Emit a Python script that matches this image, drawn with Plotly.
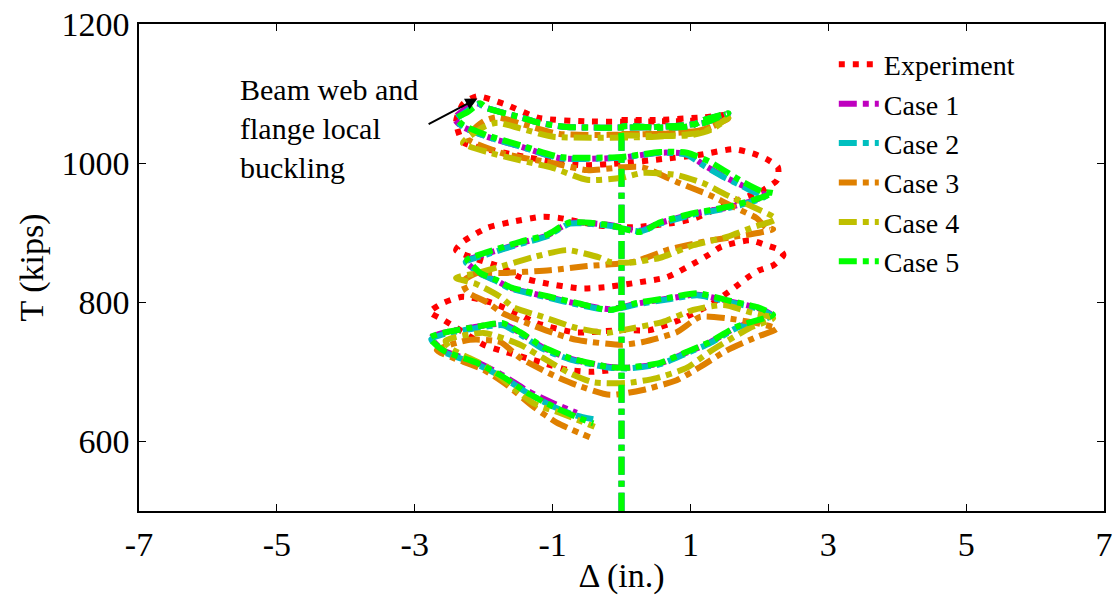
import plotly.graph_objects as go

# ---------------- data ----------------
exp_x = [0.0, 0.5, 1.2, 1.55, 1.2, 0.5, -0.5, -1.2, -1.7, -2.1, -2.3, -2.4, -2.3, -1.95, -1.0, -0.56, 0.0, 0.6,
         1.14, 1.62, 1.9, 2.1, 2.27, 2.26, 2.05, 1.5, 1.07, 0.75, 0.17, -0.3, -0.89, -1.14, -1.62, -1.95, -2.3,
         -2.4, -2.1, -1.76, -1.47, -1.14, -0.6, -0.21, 0.27, 0.66, 1.07, 1.26, 1.45, 1.86, 2.1, 2.3, 2.35, 2.2,
         2.0, 1.82, 1.65, 1.28, 0.85, 0.41, 0.0, -0.46, -0.7, -1.23, -1.47, -1.9, -2.3, -2.59, -2.78, -2.59,
         -2.39, -2.0, -1.76, -1.14, -0.79, -0.46, -0.1]
exp_T = [1062, 1062, 1066, 1070, 1062, 1060, 1060, 1065, 1085, 1096, 1085, 1060, 1030, 1020, 1002, 997, 1000, 1006,
         1012, 1020, 1014, 1006, 994, 976, 961, 940, 921, 914, 908, 910, 921, 923, 915, 907, 887,
         875, 862, 851, 836, 828, 820, 822, 829, 836, 857, 868, 880, 889, 882, 875, 868, 853,
         846, 835, 822, 796, 775, 760, 760, 757, 757, 770, 782, 800, 808, 799, 786, 775,
         763, 739, 731, 713, 703, 700, 703]

c5_x = [0.0, 0.0, 0.0, 0.5, 1.0, 1.19, 1.55, 1.2, 0.5, -0.3, -0.8, -1.2, -1.47, -1.95, -2.05, -2.24, -2.39, -2.3,
        -1.95, -1.47, -0.89, 0.0, 0.56, 0.95, 1.28, 1.76, 2.05, 2.2, 1.91, 1.53, 1.04, 0.56, 0.27, -0.17,
        -0.75, -1.08, -1.47, -1.95, -2.24, -2.15, -2.05, -1.81, -1.62, -1.04, -0.65, -0.17, 0.22, 0.66, 1.1,
        1.53, 1.97, 2.2, 2.0, 1.67, 1.28, 0.95, 0.56, 0.08, -0.17, -0.75, -1.14, -1.47, -1.72, -2.1, -2.59,
        -2.78, -2.59, -2.1, -1.72, -1.37, -0.99, -0.65, -0.41]
c5_T = [500, 1035, 1052, 1051, 1053, 1062, 1072, 1058, 1052, 1051, 1052, 1058, 1066, 1079, 1086, 1073, 1065, 1055,
        1040, 1026, 1009, 1009, 1016, 1015, 1002, 973, 959, 957, 947, 937, 928, 915, 901, 911,
        915, 897, 887, 872, 861, 852, 842, 832, 822, 808, 799, 789, 799, 806, 813,
        803, 793, 782, 775, 765, 743, 729, 713, 706, 707, 720, 736, 757, 770, 765, 756,
        749, 731, 713, 693, 670, 650, 635, 626]

c2_x = [0.0, 0.0, 0.0, 0.5, 1.0, 1.19, 1.55, 1.2, 0.5, -0.3, -0.8, -1.2, -1.47, -1.95, -2.08, -2.28, -2.4, -2.3,
        -1.95, -1.47, -0.89, 0.0, 0.56, 0.95, 1.2, 1.48, 1.77, 1.96, 2.1, 1.91, 1.53, 1.04, 0.56, 0.27, -0.17,
        -0.75, -1.08, -1.47, -1.95, -2.26, -2.17, -2.05, -1.81, -1.62, -1.04, -0.65, -0.17, 0.22, 0.66, 1.1,
        1.53, 1.97, 2.18, 2.0, 1.67, 1.28, 0.95, 0.56, 0.08, -0.17, -0.75, -1.14, -1.47, -1.72, -2.1, -2.59,
        -2.76, -2.59, -2.1, -1.72, -1.37, -0.99, -0.65, -0.37]
c2_T = [500, 1035, 1052, 1051, 1053, 1062, 1071, 1058, 1052, 1051, 1052, 1058, 1066, 1079, 1085, 1072, 1063, 1052,
        1038, 1024, 1007, 1008, 1015, 1012, 996, 980, 966, 957, 953, 945, 935, 926, 913, 902, 910,
        913, 895, 884, 869, 858, 850, 841, 830, 820, 806, 797, 789, 797, 804, 810,
        801, 791, 781, 773, 763, 741, 727, 711, 705, 706, 718, 733, 754, 767, 763, 754,
        747, 729, 711, 692, 670, 650, 637, 631]

c1_x = [0.0, 0.0, 0.0, 0.5, 1.0, 1.19, 1.55, 1.2, 0.5, -0.3, -0.8, -1.2, -1.47, -1.95, -2.1, -2.32, -2.42, -2.32,
        -1.95, -1.47, -0.89, 0.0, 0.56, 0.95, 1.2, 1.48, 1.77, 1.96, 2.1, 1.91, 1.53, 1.04, 0.56, 0.27, -0.17,
        -0.75, -1.08, -1.47, -1.95, -2.26, -2.17, -2.05, -1.81, -1.62, -1.04, -0.65, -0.17, 0.22, 0.66, 1.1,
        1.53, 1.97, 2.18, 2.0, 1.67, 1.28, 0.95, 0.56, 0.08, -0.17, -0.75, -1.14, -1.47, -1.72, -2.1, -2.59,
        -2.76, -2.59, -2.1, -1.72, -1.37, -0.99, -0.65]
c1_T = [500, 1035, 1052, 1051, 1053, 1062, 1071, 1058, 1052, 1051, 1052, 1058, 1066, 1079, 1086, 1074, 1064, 1053,
        1038, 1024, 1007, 1008, 1015, 1013, 997, 981, 967, 958, 954, 946, 936, 927, 914, 903, 911,
        914, 896, 885, 870, 859, 850, 841, 831, 821, 807, 798, 790, 798, 805, 811,
        802, 792, 782, 774, 764, 742, 728, 712, 706, 707, 719, 735, 756, 769, 765, 756,
        749, 731, 714, 695, 673, 655, 641]

c3_x = [0.0, 1.0, 1.3, 1.55, 1.2, 0.5, -0.9, -1.4, -1.8, -2.0, -2.24, -1.72, -0.99, -0.5, 0.0, 0.31, 0.8, 1.28,
        1.67, 1.96, 2.1, 2.2, 2.0, 1.62, 1.19, 0.66, 0.17, -0.5, -1.04, -1.76, -2.1, -2.3, -2.24, -1.95, -1.72,
        -1.37, -0.99, -0.65, 0.0, 0.31, 0.8, 1.14, 1.53, 1.96, 2.25, 1.96, 1.53, 1.14, 0.8, 0.31, -0.17, -0.65,
        -0.99, -1.47, -1.76, -2.2, -2.68, -2.44, -2.0, -1.66, -1.28, -0.94, -0.46]
c3_T = [1042, 1044, 1052, 1064, 1048, 1042, 1042, 1055, 1066, 1060, 1036, 1014, 1000, 990, 994, 994, 973, 954,
        935, 921, 907, 905, 900, 894, 887, 875, 858, 852, 846, 842, 842, 830, 815, 800, 784,
        770, 756, 746, 739, 743, 757, 779, 777, 770, 762, 750, 731, 707, 688, 674, 667, 681,
        695, 720, 743, 746, 731, 720, 703, 681, 650, 627, 606]

c4_x = [0.0, 1.0, 1.3, 1.55, 1.2, 0.5, -0.99, -1.47, -1.8, -2.0, -2.3, -1.95, -1.47, -0.99, -0.5, 0.0, 0.31,
        0.8, 1.19, 1.53, 1.91, 2.2, 2.23, 1.91, 1.53, 1.04, 0.56, 0.12, -0.17, -0.31, -0.79, -1.28, -1.66,
        -2.1, -2.4, -2.1, -1.76, -1.57, -1.14, -0.65, -0.21, 0.02, 0.6, 1.04, 1.48, 1.86, 2.2, 1.86, 1.28,
        0.95, 0.51, 0.08, -0.41, -0.75, -1.14, -1.47, -2.0, -2.55, -2.5, -1.95, -1.28, -0.89, -0.39]
c4_T = [1040, 1040, 1048, 1065, 1045, 1038, 1038, 1050, 1058, 1052, 1029, 1016, 1004, 993, 976, 979, 986,
        983, 971, 954, 937, 923, 919, 908, 894, 882, 864, 857, 858, 864, 875, 865, 854,
        842, 835, 826, 808, 793, 779, 763, 756, 760, 772, 789, 796, 786, 777, 763, 729,
        706, 691, 684, 685, 698, 720, 739, 756, 745, 735, 707, 655, 641, 621]

series_names = ["Experiment", "Case 1", "Case 2", "Case 3", "Case 4", "Case 5"]
series_x = [exp_x, c1_x, c2_x, c3_x, c4_x, c5_x]
series_T = [exp_T, c1_T, c2_T, c3_T, c4_T, c5_T]
series_colors = ["#FF0000", "#BF00BF", "#00BFBF", "#DF8000", "#BFBF00", "#00FF00"]
series_dash = ["6px,8px"] + ["18px,6px,6px,6px"] * 5

x_ticks = [-7, -5, -3, -1, 1, 3, 5, 7]
y_ticks = [600, 800, 1000, 1200]

FONT = "Liberation Serif, Times New Roman, serif"

fig = go.Figure()
for name, xs, ts, col, dsh in zip(series_names, series_x, series_T, series_colors, series_dash):
    fig.add_trace(go.Scatter(x=xs, y=ts, mode="lines", name=name,
                             line=dict(color=col, width=6, dash=dsh, shape="spline", smoothing=0.6)))

fig.add_annotation(x=-2.09, y=1093, ax=-2.82, ay=1055, axref="x", ayref="y", xref="x", yref="y",
                   text="", showarrow=True, arrowhead=2, arrowsize=1.2, arrowwidth=2, arrowcolor="black")
fig.add_annotation(x=-5.57, y=1050, xref="x", yref="y", xanchor="left", yanchor="middle", align="left",
                   text="Beam web and<br>flange local<br>buckling", showarrow=False,
                   font=dict(family=FONT, size=30, color="black"))

axis_common = dict(showline=True, linecolor="black", linewidth=1.5, mirror="ticks", ticks="inside",
                   ticklen=7, tickcolor="black", showgrid=False, zeroline=False, automargin=False,
                   tickfont=dict(family=FONT, size=34, color="black"))

fig.update_xaxes(range=[-7, 7], tickvals=x_ticks, ticktext=[str(v) for v in x_ticks],
                 title=dict(text="Δ (in.)", font=dict(family=FONT, size=34, color="black"), standoff=5),
                 ticklabelstandoff=2, **axis_common)
fig.update_yaxes(range=[500, 1200], tickvals=y_ticks, ticktext=[str(v) for v in y_ticks],
                 title=dict(text="T (kips)", font=dict(family=FONT, size=34, color="black"), standoff=8),
                 ticklabelstandoff=1, **axis_common)

fig.update_layout(
    width=1117, height=595,
    margin=dict(l=139, r=13, t=24, b=84, autoexpand=False),
    paper_bgcolor="white", plot_bgcolor="white",
    font=dict(family=FONT, color="black"),
    showlegend=True,
    legend=dict(x=0.72, y=0.968, xanchor="left", yanchor="top", bgcolor="rgba(0,0,0,0)",
                borderwidth=0, font=dict(family=FONT, size=28, color="black"), itemwidth=40),
)

# remove the page's default body margin so the figure sits at the window's top-left corner
fig.write_html("out.html", config={"displayModeBar": False},
               post_script="document.body.style.margin='0';document.documentElement.style.overflow='hidden';")
